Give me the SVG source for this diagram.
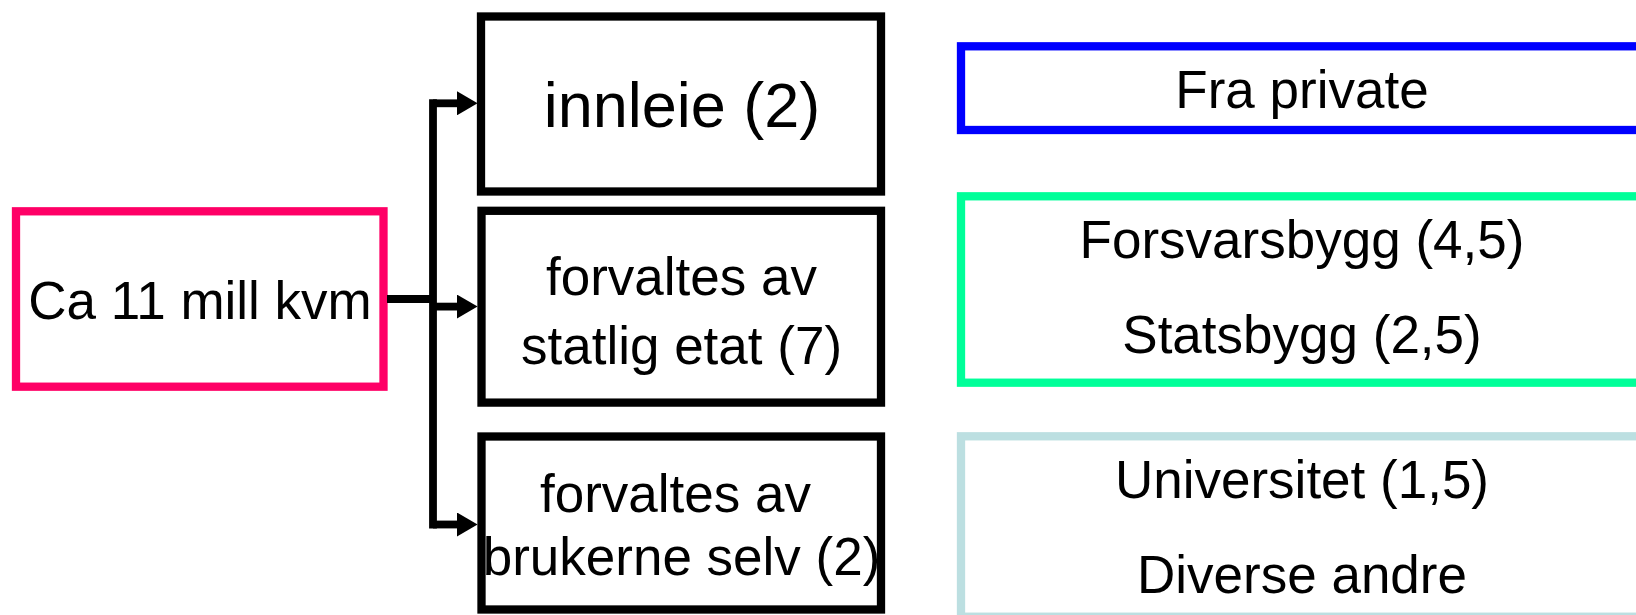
<svg xmlns="http://www.w3.org/2000/svg" width="1636" height="615" viewBox="0 0 1636 615">
  <defs>
    <style>
      .box { fill: #FFFFFF; stroke-width: 8.3; }
      .blk { stroke: #000000; }
      .pink { stroke: #FF0066; }
      .blue { stroke: #0000FF; }
      .green { stroke: #00FF99; }
      .lblue { stroke: #BCDFE1; }
      text { font-family: "Liberation Sans", Arial, sans-serif; font-size: 53px; fill: #000000; text-anchor: middle; }
      .big { font-size: 63px; }
      .conn { fill: none; stroke: #000000; stroke-width: 7.8; stroke-linecap: butt; stroke-linejoin: miter; }
    </style>
    <marker id="arrow" markerUnits="userSpaceOnUse" markerWidth="21" markerHeight="24" viewBox="0 0 21 24" refX="0" refY="12" orient="auto">
      <path d="M0 0 L20.6 12 L0 24 Z" fill="#000000"/>
    </marker>
  </defs>

  <g id="node-total">
    <rect class="box pink" x="16" y="211.3" width="367.5" height="175.4"/>
    <text x="200" y="319">Ca 11 mill kvm</text>
  </g>

  <g id="node-innleie">
    <rect class="box blk" x="481" y="16.5" width="400" height="175"/>
    <text class="big" x="682" y="127.3">innleie (2)</text>
  </g>

  <g id="node-statlig">
    <rect class="box blk" x="481.5" y="210.8" width="399.5" height="191.8"/>
    <text x="681.5" y="295">forvaltes av</text>
    <text x="681.5" y="363.5">statlig etat (7)</text>
  </g>

  <g id="node-brukerne">
    <rect class="box blk" x="481.5" y="436.5" width="399.5" height="173"/>
    <text x="675.5" y="511.7">forvaltes av</text>
    <text x="681.5" y="575">brukerne selv (2)</text>
  </g>

  <g id="node-private">
    <rect class="box blue" x="961" y="46.3" width="700" height="83.7"/>
    <text x="1302" y="107.7">Fra private</text>
  </g>

  <g id="node-statlige">
    <rect class="box green" x="961" y="196.3" width="700" height="186.4"/>
    <text x="1302" y="257.7">Forsvarsbygg (4,5)</text>
    <text x="1302" y="353.3">Statsbygg (2,5)</text>
  </g>

  <g id="node-andre">
    <rect class="box lblue" x="961" y="436.3" width="700" height="180.4"/>
    <text x="1302" y="497.7">Universitet (1,5)</text>
    <text x="1302" y="593.3">Diverse andre</text>
  </g>

  <g id="connectors">
    <path class="conn" d="M387 299 H433"/>
    <path class="conn" d="M433 99.3 V528.4"/>
    <path class="conn" d="M433 103.3 H457" marker-end="url(#arrow)"/>
    <path class="conn" d="M433 306.6 H457" marker-end="url(#arrow)"/>
    <path class="conn" d="M433 524.5 H457" marker-end="url(#arrow)"/>
  </g>
</svg>
